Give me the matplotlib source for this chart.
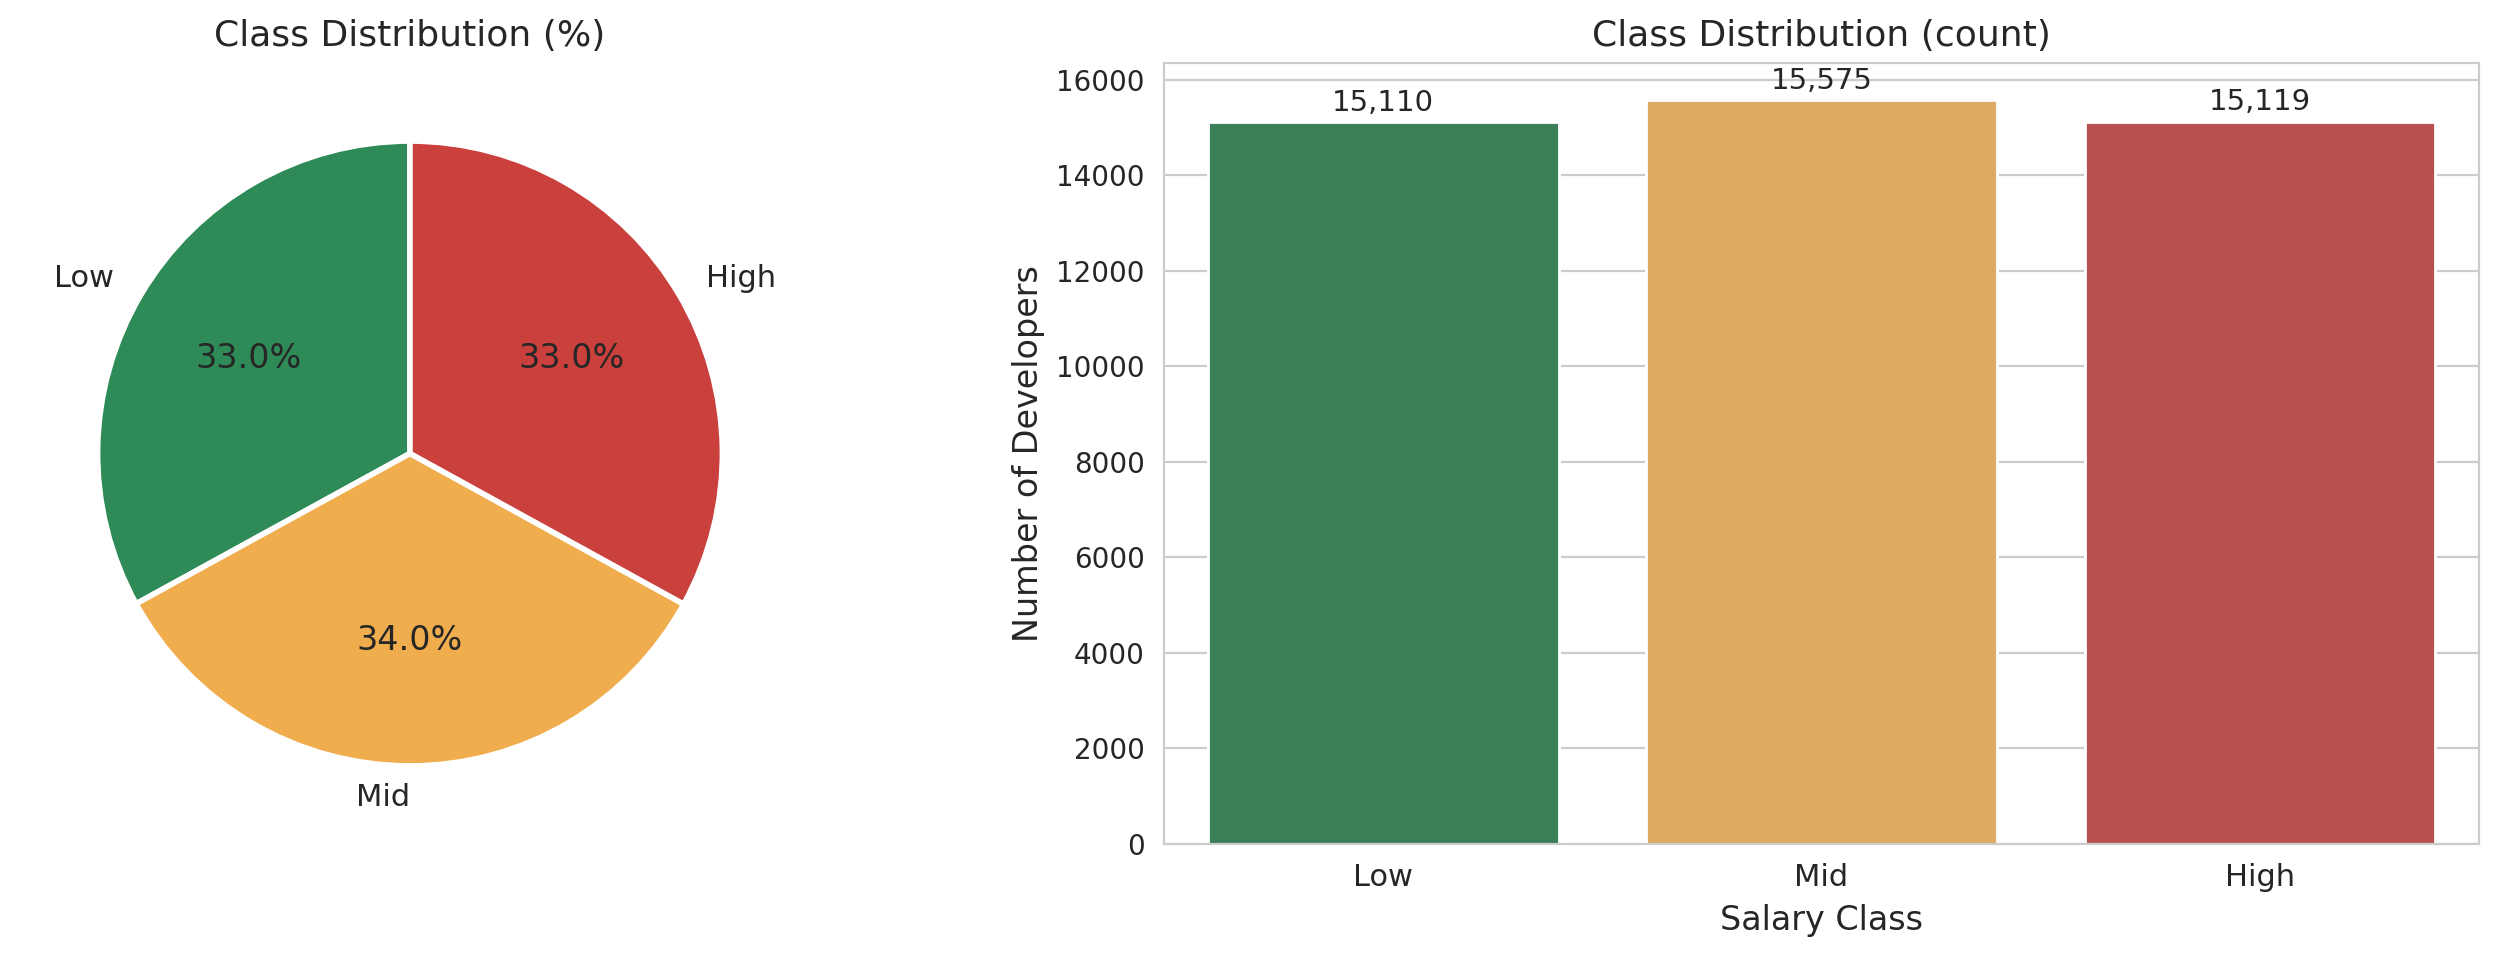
import matplotlib
matplotlib.use("Agg")
import matplotlib.pyplot as plt
import seaborn as sns

classes = ["Low", "Mid", "High"]
counts = [15110, 15575, 15119]
colors = ["#2E8B57", "#F0AD4E", "#C9403D"]

sns.set_style("whitegrid")

fig = plt.figure(figsize=(12.5, 4.815), dpi=200)

# pie on the left
ax1 = fig.add_axes([0.004, 0.1236, 0.32, 0.811])
ax1.pie(counts, labels=classes, colors=colors, autopct="%1.1f%%",
        startangle=90, wedgeprops={"edgecolor": "white", "linewidth": 2},
        textprops={"fontsize": 11})
for t in ax1.texts:
    if t.get_text().endswith("%"):
        t.set_fontsize(12)
ax1.set_title("Class Distribution (%)", fontsize=13)

# bar chart on the right
ax2 = fig.add_axes([0.4656, 0.1236, 0.526, 0.811])
sns.barplot(x=classes, y=counts, hue=classes, palette=colors,
            legend=False, ax=ax2)
for c in ax2.containers:
    ax2.bar_label(c, labels=[f"{v:,.0f}" for v in c.datavalues],
                  padding=2, fontsize=10.5)
ax2.set_title("Class Distribution (count)", fontsize=13)
ax2.set_xlabel("Salary Class", fontsize=12)
ax2.set_ylabel("Number of Developers", fontsize=12)
ax2.tick_params(axis="y", labelsize=10)
ax2.tick_params(axis="x", labelsize=11)

fig.savefig("out.png", dpi=200)
